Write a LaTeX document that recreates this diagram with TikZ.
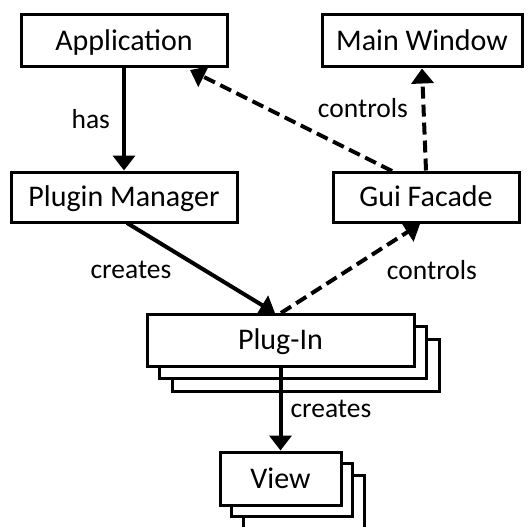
\documentclass[tikz,border=0pt]{standalone}
\usepackage{fontspec}
\setmainfont{Carlito}
\usetikzlibrary{arrows.meta,shadows}
\begin{document}
\begin{tikzpicture}[x=1pt,y=-1pt,
  box/.style={draw,line width=3pt,fill=white,inner sep=0pt,text height=24pt,text depth=5pt,font=\fontsize{30}{32}\selectfont},
  stack/.style={box,double copy shadow={shadow xshift=#1, shadow yshift=-#1, fill=white, draw, line width=3pt}},
  lbl/.style={font=\fontsize{27.5}{30}\selectfont,inner sep=0pt},
  arr/.style={line width=4pt,-{Triangle[width=22pt,length=15pt]}},
  darr/.style={arr,dash pattern=on 12pt off 6pt}]
\useasboundingbox (0,0) rectangle (528,527);
\clip (0,0) rectangle (528,527);
\node[box,minimum width=206pt,minimum height=52pt] (app) at (124,41) {Application};
\node[box,minimum width=200pt,minimum height=52pt] (mw) at (422,41) {Main Window};
\node[box,minimum width=226pt,minimum height=50pt] (pm) at (124,197) {Plugin Manager};
\node[box,minimum width=186pt,minimum height=50pt] (gf) at (426,197) {Gui Facade};
\node[stack=12.5pt,minimum width=267pt,minimum height=52pt] (pi) at (280.5,340) {Plug-In};
\node[stack=11.5pt,minimum width=121pt,minimum height=53pt] (view) at (280.5,478.5) {View};
\coordinate (gfa) at (392,171);
\coordinate (appb) at (190,70);
\draw[arr] (app.south) -- (pm.north) node[lbl,midway,left=12pt] {has};
\draw[darr] (gf.north) -- (mw.south);
\draw[darr] (gfa) -- (appb);
\node[lbl] (c1) at (363,108) {controls};
\coordinate (pmb) at (127,223);
\coordinate (pit) at (275,313);
\coordinate (pit2) at (281,313);
\coordinate (gfb) at (420,224);
\draw[arr] (pmb) -- (pit);
\draw[darr] (pit2) -- (gfb);
\node[lbl] (c2) at (131,270) {creates};
\node[lbl] (c3) at (432,270) {controls};
\draw[arr] (pi.south) -- (view.north) node[lbl,midway,right=8pt] {creates};
\end{tikzpicture}
\end{document}
